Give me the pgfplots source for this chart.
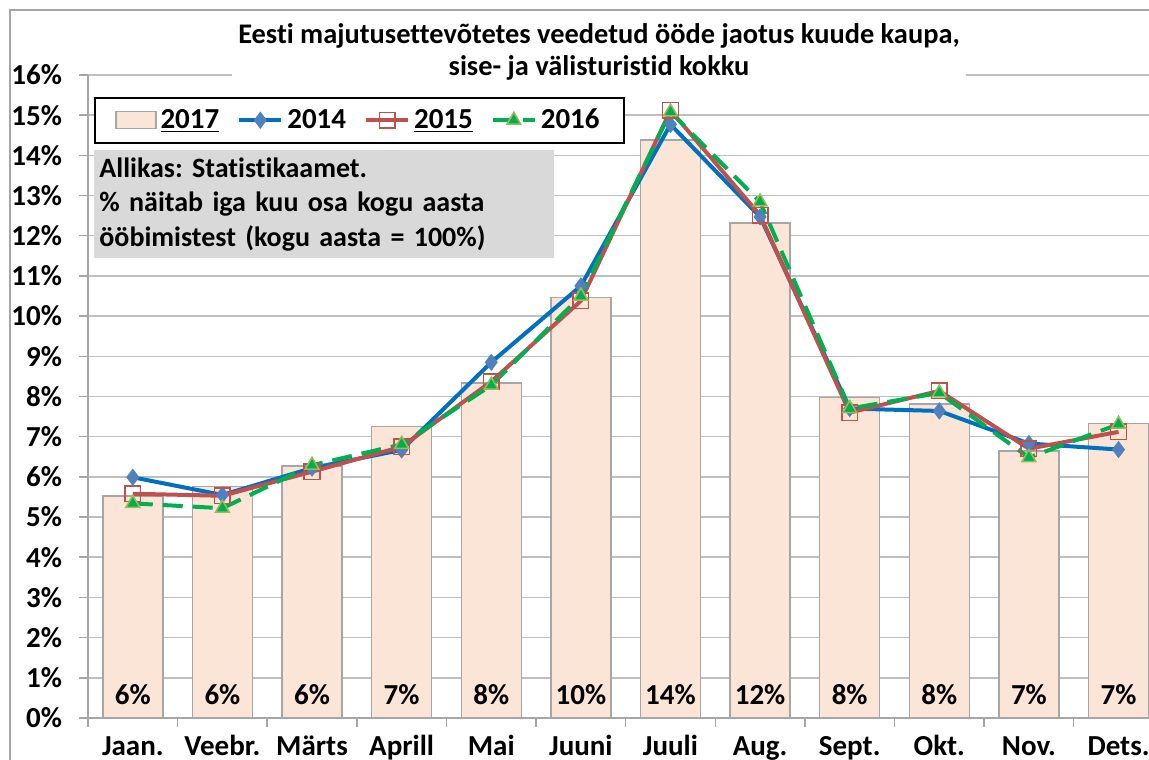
\documentclass[border=0pt]{standalone}
\usepackage{pgfplots}
\pgfplotsset{compat=1.18}
\usepackage{pgfplotstable}
\usepackage{fontspec}
\setmainfont{Carlito}[Ligatures={NoCommon,NoDiscretionary}]
\frenchspacing

\definecolor{barfill}{HTML}{FBE5D6}
\definecolor{bargray}{HTML}{A6A6A6}
\definecolor{gridgray}{HTML}{BFBFBF}
\definecolor{c14}{HTML}{0070C0}
\definecolor{c14m}{HTML}{4F81BD}
\definecolor{c15}{HTML}{C0504D}
\definecolor{c16}{HTML}{00B050}
\definecolor{c16m}{HTML}{9BBB59}
\definecolor{boxgray}{HTML}{D9D9D9}

\pgfplotsset{
  linelegend/.style={legend image code/.code={\draw[mark repeat=2,mark phase=2,##1] plot coordinates {(0bp,0bp) (10.5bp,0bp) (21bp,0bp)};}},
  barlegend/.style={legend image code/.code={\draw[##1, line width=0.75bp] (0bp,-4.25bp) rectangle (20bp,4.25bp);}},
}

\pgfplotstableread{
x b a14 a15 a16
0 5.52 5.99 5.58 5.34
1 5.76 5.55 5.53 5.22
2 6.27 6.22 6.13 6.29
3 7.25 6.67 6.75 6.81
4 8.33 8.85 8.37 8.28
5 10.46 10.75 10.38 10.50
6 14.38 14.77 15.12 15.08
7 12.32 12.47 12.51 12.84
8 7.97 7.70 7.60 7.70
9 7.81 7.64 8.14 8.09
10 6.64 6.83 6.70 6.48
11 7.33 6.68 7.12 7.31
}\data

\newcommand{\cf}{\bfseries\fontsize{14.5bp}{17.25bp}\selectfont}

\begin{document}
\begin{tikzpicture}
\useasboundingbox (0,0) rectangle (574.5bp,380bp);
\draw[bargray, line width=0.75bp] (5bp,0) -- (5bp,375bp) -- (574.5bp,375bp);
\begin{axis}[
  at={(44bp,21bp)}, anchor=south west,
  scale only axis, width=530.5bp, height=321.5bp,
  xmin=-0.5, xmax=11.34, ymin=0, ymax=16,
  axis lines=left, axis line style={-, draw=bargray, line width=0.75bp},
  ytick={0,1,...,16}, yticklabel={\pgfmathprintnumber{\tick}\%},
  yticklabel style={xshift=-5bp},
  xticklabel style={text height=10.5bp, text depth=2.5bp},
  ymajorgrids, grid style={gridgray, line width=0.75bp},
  xtick={0,...,11},
  xticklabels={Jaan.,Veebr.,Märts,Aprill,Mai,Juuni,Juuli,Aug.,Sept.,Okt.,Nov.,Dets.},
  minor xtick={-0.5,0.5,...,10.5},
  tick align=outside, major tick length=4.5bp, minor tick length=4.5bp,
  tick style={bargray, line width=0.75bp},
  major x tick style={draw=none},
  every tick label/.append style={font=\cf},
  /pgf/number format/assume math mode=true,
  legend style={at={(0.0057,0.966)}, anchor=north west, draw=black, line width=1bp,
    fill=white, font=\cf, inner xsep=10bp, inner ysep=3.5bp,
    /tikz/every even column/.append style={column sep=7bp}},
  legend columns=4, legend cell align=left,
]
\addplot[ybar, bar width=30bp, bar shift=0pt, fill=barfill, draw=bargray, line width=0.75bp, barlegend]
  table[x=x,y=b]{\data};
\addlegendentry{\underline{2017}}
\addplot[c14, line width=2bp, mark=diamond*, mark size=2.7bp,
  mark options={fill=c14m, draw=c14m, solid}, linelegend]
  table[x=x,y=a14]{\data};
\addlegendentry{2014}
\addplot[c15, line width=2bp, mark=square, mark size=3.9bp,
  mark options={draw=c15, line width=0.75bp, solid}, linelegend]
  table[x=x,y=a15]{\data};
\addlegendentry{\underline{2015}}
\addplot[c16, line width=2bp, dash pattern=on 10bp off 5bp, mark=triangle*, mark size=4bp,
  mark options={fill=c16, draw=c16m, line width=0.75bp, solid}, linelegend]
  table[x=x,y=a16]{\data};
\addlegendentry{2016}
\addplot[draw=none, mark=none, forget plot,
  nodes near coords={\pgfmathprintnumber[fixed,precision=0]{\pgfplotspointmeta}\%},
  point meta=explicit,
  nodes near coords style={anchor=center, font=\cf, text=black}]
  table[x=x, y expr=0.57, meta=b]{\data};
\end{axis}
\node[fill=boxgray, anchor=north west, text width=225bp, minimum height=54bp,
  align=left, inner xsep=2.5bp, inner ysep=3bp, font=\bfseries\fontsize{14bp}{17.25bp}\selectfont] at (47bp,305bp)
  {Allikas: Statistikaamet.\\ \% näitab iga kuu osa kogu aasta\\ ööbimistest (kogu aasta = 100\%)};
\node[fill=white, align=center, font=\bfseries\fontsize{14.2bp}{16bp}\selectfont,
  inner xsep=3bp, inner ysep=4bp] at (299.5bp,354bp)
  {Eesti majutusettevõtetes veedetud ööde jaotus kuude kaupa,\\ sise- ja välisturistid kokku};
\end{tikzpicture}
\end{document}
